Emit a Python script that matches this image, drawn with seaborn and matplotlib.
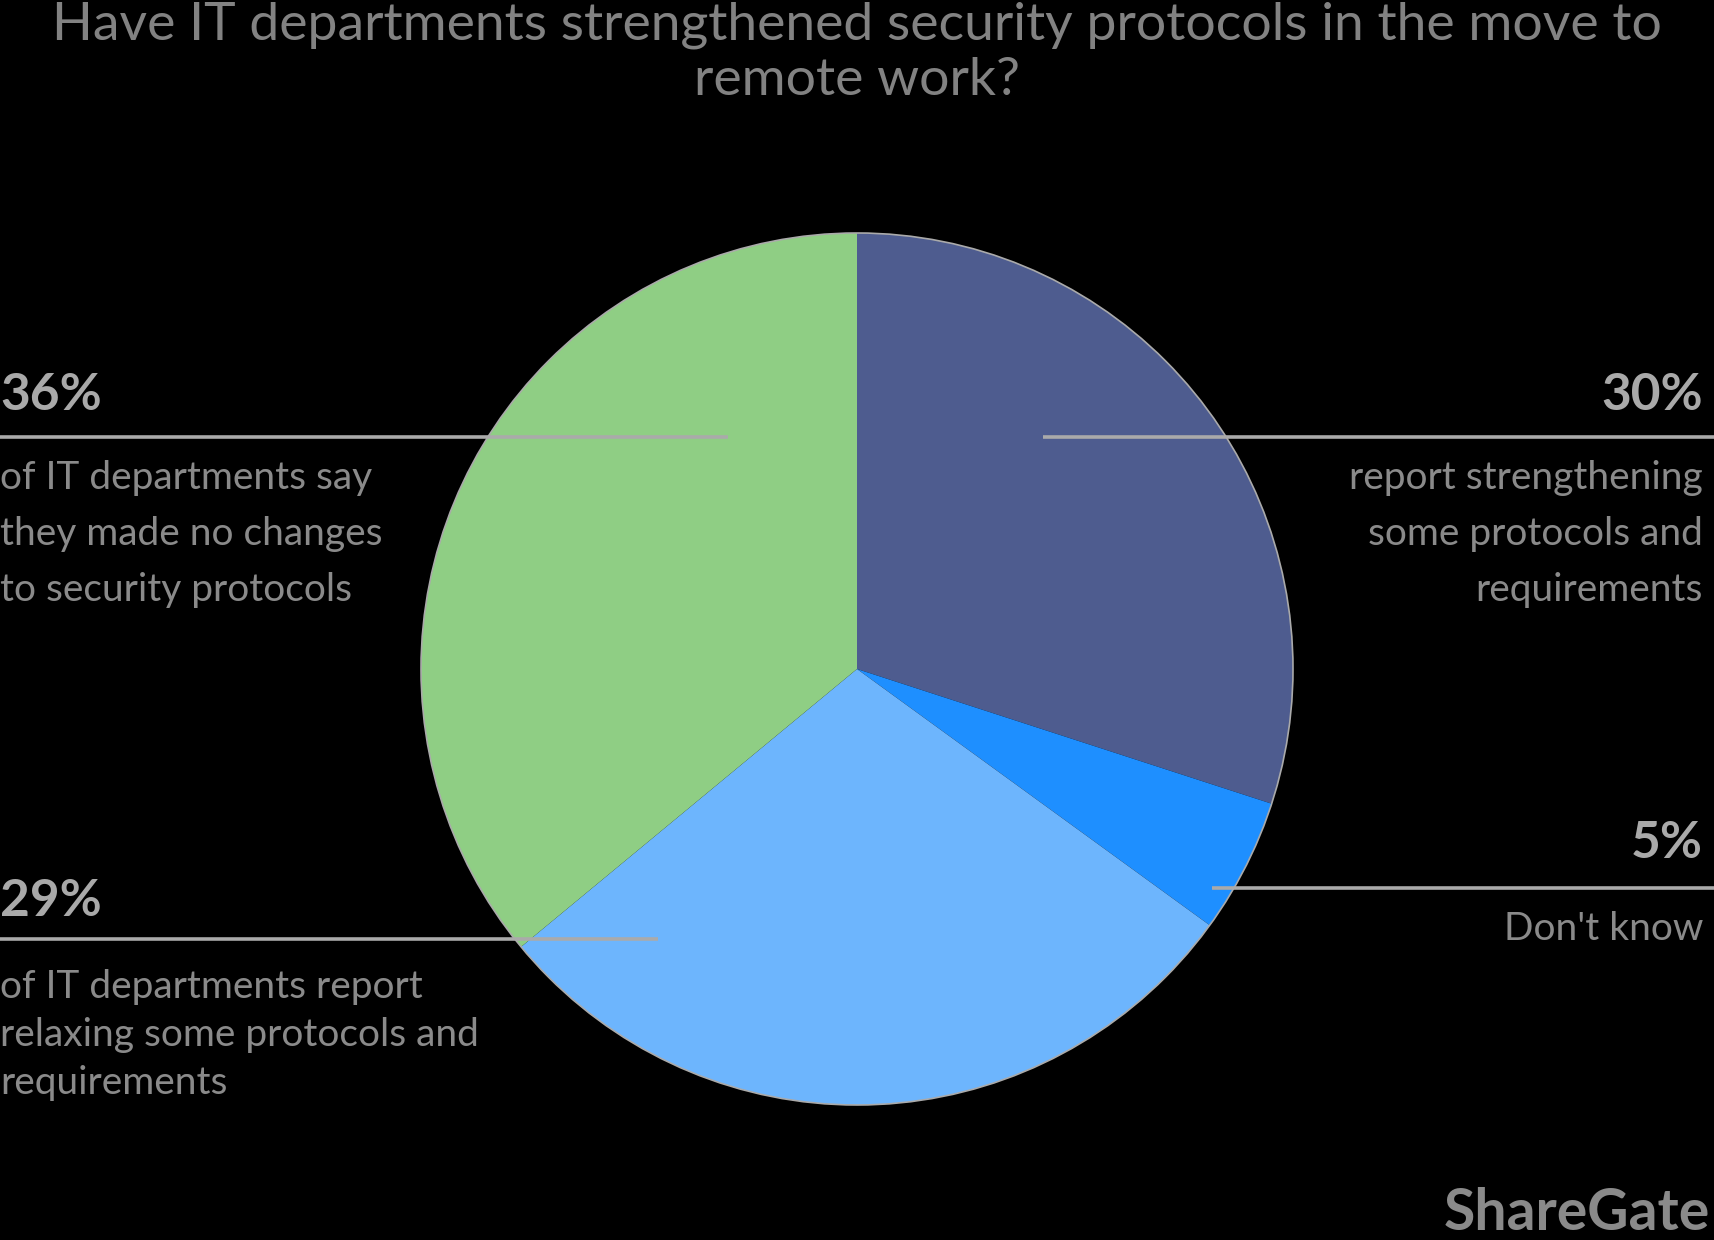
import seaborn as sns
import matplotlib.pyplot as plt
from matplotlib.patches import Circle

# data
answers = ["Strengthened", "Don't know", "Relaxed", "No changes"]
shares = [30, 5, 29, 36]
colors = ["#4e5c8f", "#1e8fff", "#6db5fd", "#8fce84"]

title = "Have IT departments strengthened security protocols in the move to\nremote work?"
pct_labels = ["30%", "5%", "29%", "36%"]
desc_labels = [
    ["report strengthening", "some protocols and", "requirements"],
    ["Don't know"],
    ["of IT departments report", "relaxing some protocols and", "requirements"],
    ["of IT departments say", "they made no changes", "to security protocols"],
]

sns.set_style("white")
plt.rcParams["font.family"] = ["Lato", "DejaVu Sans"]

W, H = 1714, 1240
fig = plt.figure(figsize=(W / 100, H / 100), dpi=100, facecolor="black")
ax = fig.add_axes([0, 0, 1, 1])
ax.set_facecolor("black")

cx, cy, r = 857, H - 669, 436
ax.pie(shares, colors=colors, startangle=90, counterclock=False,
       center=(cx, cy), radius=r, frame=True,
       wedgeprops=dict(linewidth=0))
ax.add_patch(Circle((cx, cy), r, fill=False, ec="#aaaaaa", lw=1.2))
ax.set_xlim(0, W)
ax.set_ylim(0, H)
ax.set_aspect("equal")
ax.axis("off")

line_c = "#aaaaaa"
pct_c = "#a9a9a9"
txt_c = "#8a8a8a"

# leader lines (x0, x1, y) in pixel layout
leaders = [(1043, W, 437), (1212, W, 888), (0, 658, 939), (0, 728, 437)]
for x0, x1, y in leaders:
    ax.plot([x0, x1], [H - y, H - y], color=line_c, lw=2.6, solid_capstyle="butt")

# label blocks: (x, ha, pct_y, first_line_y, step)
blocks = [(1703, "right", 396, 478, 56), (1703, "right", 844, 929, 56),
          (0, "left", 902, 987, 48), (0, "left", 396, 478, 56)]
for (x, ha, py, ly, step), p, lines in zip(blocks, pct_labels, desc_labels):
    ax.text(x, H - py, p, ha=ha, va="center", fontsize=37, fontweight="bold", color=pct_c)
    for i, t in enumerate(lines):
        ax.text(x, H - (ly + i * step), t, ha=ha, va="center", fontsize=28, color=txt_c)

ax.text(W / 2, H - 53, title, ha="center", va="center", fontsize=38.5, color="#828282",
        linespacing=1.2)

ax.text(1710, H - 1213, "ShareGate", ha="right", va="center", fontsize=41,
        fontweight="bold", color="#8a8a8a")

fig.savefig("out.png", dpi=100, facecolor="black")
